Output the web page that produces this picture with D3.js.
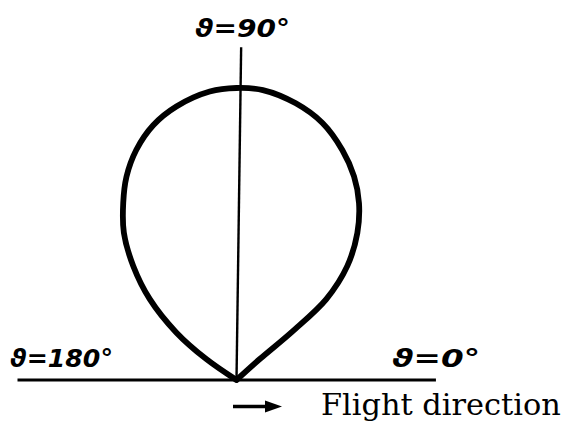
<!DOCTYPE html>
<html>
<head>
<meta charset="utf-8">
<script src="https://cdn.jsdelivr.net/npm/d3@7"></script>
<style>
  html, body { margin: 0; padding: 0; background: #fff; }
  svg { display: block; }
</style>
</head>
<body>
<svg id="chart" width="573" height="423"></svg>
<script>
// Polar emission pattern, angle ϑ measured from the flight direction (degrees)
const thetaDeg = [40, 42, 41, 42, 45.8, 50.6, 55.3, 60, 65.3, 71.5, 77.9, 84.8, 90,
                  95.3, 102.4, 108.1, 113.5, 118.4, 122.6, 127.4, 132.2, 137, 141.7, 145.3, 147];
// Relative intensity at each angle (1 = maximum, at ϑ = 90°)
const intensity = [0, 0.106, 0.253, 0.413, 0.544, 0.652, 0.737, 0.805, 0.867, 0.928, 0.969, 0.997, 1.0,
                   0.992, 0.959, 0.918, 0.860, 0.792, 0.720, 0.635, 0.526, 0.406, 0.263, 0.126, 0];

// Reference directions and their labels
const axisAngles = [0, 90, 180];
const axisLabels = ["ϑ=0°", "ϑ=90°", "ϑ=180°"];
const axisExtent = [0.683, 1.14, 0.75];   // length of each reference ray, relative units
const directionLabel = "Flight direction";

const svg = d3.select("#chart");
const cx = 236.5, cy = 380;

const r = d3.scaleLinear().domain([0, 1]).range([0, 292]);
const toRad = d => (90 - d) * Math.PI / 180;  // ϑ (ccw from +x) -> d3 radial angle

const g = svg.append("g").attr("transform", `translate(${cx},${cy})`);

// Horizontal axis ϑ = 0° ... 180°
const p0 = d3.pointRadial(toRad(axisAngles[0]), r(axisExtent[0]));
const p180 = d3.pointRadial(toRad(axisAngles[2]), r(axisExtent[2]));
g.append("line")
  .attr("x1", p180[0]).attr("y1", p180[1])
  .attr("x2", p0[0]).attr("y2", p0[1])
  .attr("stroke", "#000").attr("stroke-width", 3);

// Vertical axis ϑ = 90° (ruled very slightly off-plumb)
const p90 = d3.pointRadial(toRad(89.2), r(axisExtent[1]));
g.append("line")
  .attr("x1", 0).attr("y1", 0)
  .attr("x2", p90[0]).attr("y2", p90[1])
  .attr("stroke", "#000").attr("stroke-width", 2.4);

// Pattern curve
const pts = thetaDeg.map((t, i) => ({ a: toRad(t), v: intensity[i] }));
const line = d3.lineRadial()
  .angle(d => d.a)
  .radius(d => r(d.v))
  .curve(d3.curveCatmullRom.alpha(0.5));
g.append("path")
  .attr("d", line(pts))
  .attr("fill", "none")
  .attr("stroke", "#000")
  .attr("stroke-width", 5.8)
  .attr("stroke-linejoin", "round")
  .attr("stroke-linecap", "round");

// Angle labels
const labelStyle = sel => sel
  .attr("font-family", "'DejaVu Sans', 'Liberation Sans', sans-serif")
  .attr("font-style", "italic")
  .attr("font-weight", "bold")
  .attr("font-size", 25)
  .attr("fill", "#000")
  .attr("lengthAdjust", "spacingAndGlyphs");

svg.append("text").text(axisLabels[1])
  .attr("x", 195).attr("y", 37).attr("textLength", 95).call(labelStyle);
svg.append("text").text(axisLabels[2])
  .attr("x", 10).attr("y", 367).attr("textLength", 103).call(labelStyle);
svg.append("text").text(axisLabels[0])
  .attr("x", 392).attr("y", 367).attr("textLength", 88).call(labelStyle);

// Flight direction arrow and caption
svg.append("line")
  .attr("x1", 233).attr("y1", 406.5).attr("x2", 268).attr("y2", 406.5)
  .attr("stroke", "#000").attr("stroke-width", 3.4);
svg.append("path")
  .attr("d", "M265,400.5 L282,406.5 L265,412.5 Z")
  .attr("fill", "#000");

const caption = svg.append("text").text(directionLabel)
  .attr("x", 321).attr("y", 415)
  .attr("font-family", "'DejaVu Serif', 'Liberation Serif', serif")
  .attr("font-size", 22)
  .attr("fill", "#000");
// size the caption so it spans its ruled width without distortion
const natural = caption.node().getComputedTextLength();
caption.attr("font-size", 22 * 240 / natural);
</script>
</body>
</html>
